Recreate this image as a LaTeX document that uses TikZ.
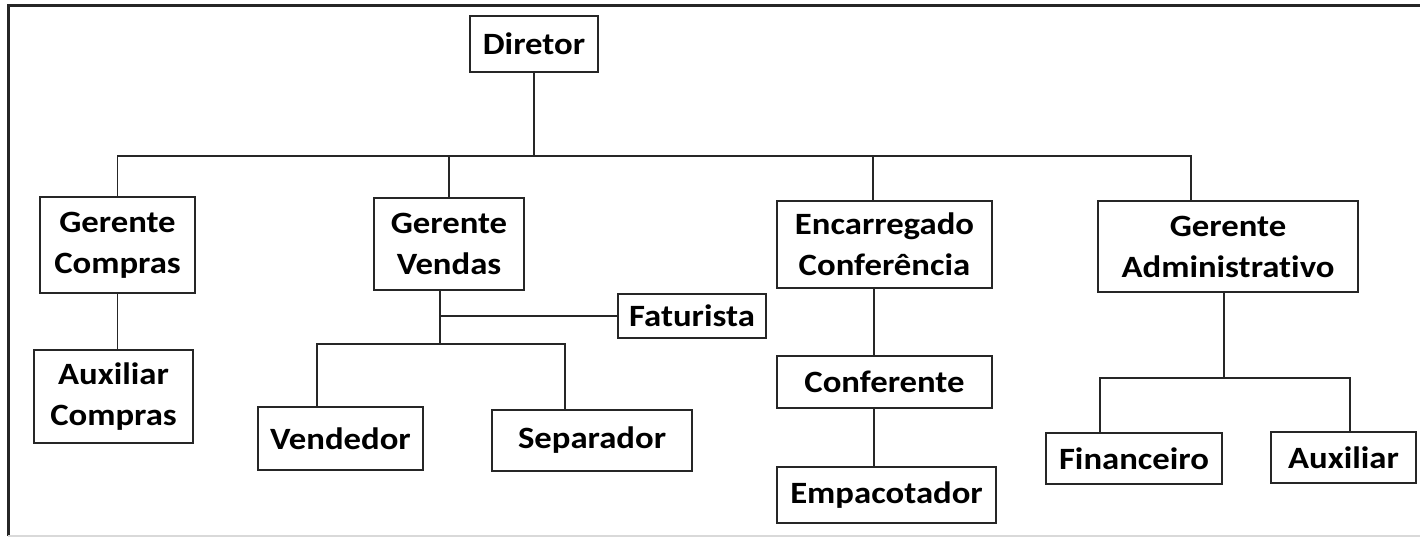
\documentclass[tikz,border=0pt]{standalone}
\usepackage{fontspec}
\setmainfont{Carlito}[FakeStretch=1.12,Ligatures=NoCommon]
\begin{document}
\begin{tikzpicture}[x=1pt,y=-1pt]
		\tikzstyle{every node}+=[inner sep=0pt]
		\tikzset{cargo/.style={draw=black!85, line width=1.3pt, align=center, font=\fontsize{31}{41}\selectfont\bfseries}}
		\tikzset{ligacao/.style={black!85, line width=1.3pt}}
		\useasboundingbox (0,0) rectangle (1420,537);
		% moldura
		\draw [black!85, line width=3pt] (8,536) -- (8,6) -- (1420,6);
		\draw [black!15, line width=1.5pt] (8,536) -- (1420,536);
		% cargos
		\node [cargo, minimum width=128pt, minimum height=56pt] (dir) at (534,44) {Diretor};
		\node [cargo, minimum width=155pt, minimum height=96pt] (gc) at (117.5,245) {Gerente\\Compras};
		\node [cargo, minimum width=159pt, minimum height=93pt] (ac) at (113.5,396.5) {Auxiliar\\Compras};
		\node [cargo, minimum width=150pt, minimum height=92pt] (gv) at (449,244) {Gerente\\Vendas};
		\node [cargo, minimum width=148pt, minimum height=44pt] (fat) at (692,316) {Faturista};
		\node [cargo, minimum width=165pt, minimum height=63pt] (ven) at (340.5,438.5) {Vendedor};
		\node [cargo, minimum width=200pt, minimum height=61pt] (sep) at (592,440.5) {Separador};
		\node [cargo, minimum width=215pt, minimum height=87pt] (enc) at (884.5,244.5) {Encarregado\\Conferência};
		\node [cargo, minimum width=215pt, minimum height=52pt] (conf) at (884.5,382) {Conferente};
		\node [cargo, minimum width=219pt, minimum height=56pt] (emp) at (886.5,495) {Empacotador};
		\node [cargo, minimum width=260pt, minimum height=91pt] (ga) at (1228,246.5) {Gerente\\Administrativo};
		\node [cargo, minimum width=176pt, minimum height=51pt] (fin) at (1134,458.5) {Financeiro};
		\node [cargo, minimum width=145pt, minimum height=51pt] (aux) at (1343.5,457.5) {Auxiliar};
		% pontos das barras
		\coordinate (encdrop) at (873,156);
		\coordinate (gadrop) at (1191,156);
		\coordinate (vbus) at (440,344);
		\coordinate (vl) at (317,344);
		\coordinate (vr) at (565,344);
		\coordinate (cx) at (874,0);
		\coordinate (abus) at (1224,378);
		\coordinate (al) at (1100,378);
		\coordinate (ar) at (1350,378);
		% ligacoes
		\draw [ligacao] (dir.south) -- (dir.south |- gadrop);
		\draw [ligacao] (gc.north) |- (gadrop) -- (gadrop |- ga.north);
		\draw [ligacao] (gv.north) -- (gv.north |- gadrop);
		\draw [ligacao] (encdrop) -- (encdrop |- enc.north);
		\draw [ligacao] (gc.south) -- (gc.south |- ac.north);
		\draw [ligacao] (vbus |- gv.south) -- (vbus);
		\draw [ligacao] (vbus |- fat.west) -- (fat.west);
		\draw [ligacao] (vl |- ven.north) -- (vl) -- (vr) -- (vr |- sep.north);
		\draw [ligacao] (cx |- enc.south) -- (cx |- conf.north);
		\draw [ligacao] (cx |- conf.south) -- (cx |- emp.north);
		\draw [ligacao] (abus |- ga.south) -- (abus);
		\draw [ligacao] (al |- fin.north) -- (al) -- (ar) -- (ar |- aux.north);
		\end{tikzpicture}
\end{document}
